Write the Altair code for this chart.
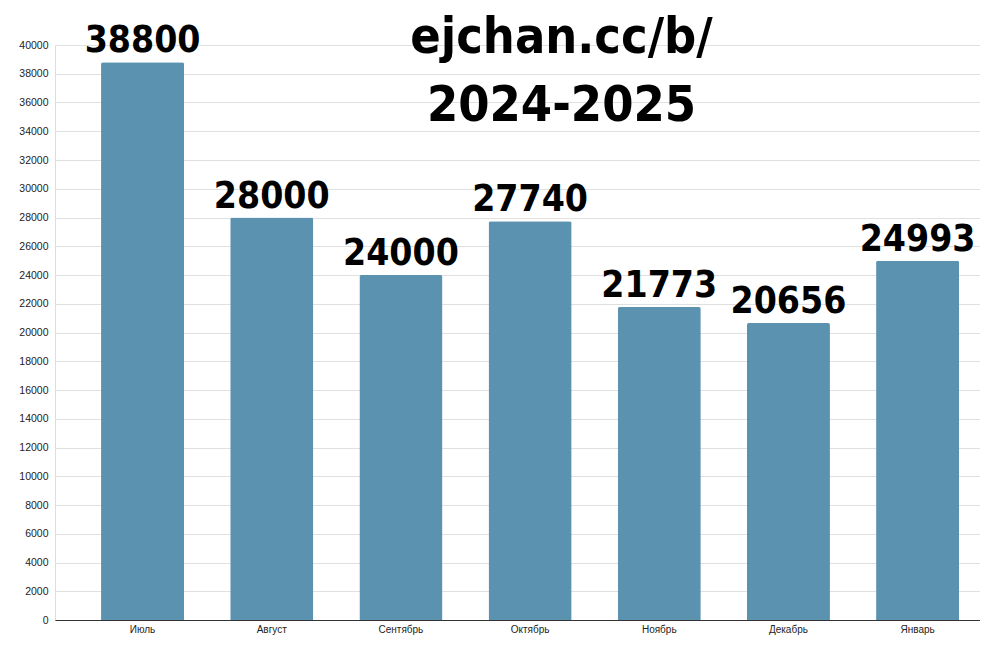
import altair as alt
import pandas as pd

months = ["Июль", "Август", "Сентябрь", "Октябрь", "Ноябрь", "Декабрь", "Январь"]
values = [38800, 28000, 24000, 27740, 21773, 20656, 24993]
title_lines = ["ejchan.cc/b/", "2024-2025"]
y_ticks = list(range(0, 40001, 2000))

df = pd.DataFrame({"month": months, "value": values})

x = alt.X(
    "month:N",
    sort=months,
    title=None,
    scale=alt.Scale(paddingInner=0.357, paddingOuter=0.259, align=0.688),
    axis=alt.Axis(
        labelAngle=0,
        labelFont="Liberation Sans",
        labelFontSize=10,
        labelColor="#222222",
        labelPadding=4,
        ticks=False,
        domainColor="#333333",
        domainWidth=1,
        grid=False,
    ),
)
y = alt.Y(
    "value:Q",
    title=None,
    scale=alt.Scale(domain=[0, 40000], nice=False),
    axis=alt.Axis(
        values=y_ticks,
        format="d",
        labelFont="Liberation Sans",
        labelFontSize=10.5,
        labelColor="#222222",
        labelPadding=7,
        labelOverlap=False,
        ticks=False,
        domain=False,
        grid=True,
        gridColor="#e0e0e0",
        gridWidth=1,
    ),
)

base = alt.Chart(df).encode(x=x, y=y)

bars = base.mark_bar(color="#5a92b0", cornerRadiusTopLeft=2, cornerRadiusTopRight=2)

labels = base.mark_text(
    font="DejaVu Sans Condensed",
    fontWeight="bold",
    fontSize=37,
    color="#000000",
    baseline="alphabetic",
    align="center",
    dy=-10,
).encode(text=alt.Text("value:Q", format="d"))

chart = (
    alt.layer(bars, labels)
    .properties(
        width=925,
        height=575,
        autosize=alt.AutoSizeParams(type="none"),
        padding={"left": 47, "top": 37, "right": 0, "bottom": 15},
        title=alt.TitleParams(
            text=title_lines,
            font="DejaVu Sans Condensed",
            fontWeight="bold",
            fontSize=50,
            lineHeight=68,
            color="#000000",
            anchor="middle",
            baseline="top",
            dx=44,
            offset=-109,
        ),
    )
    .configure_view(stroke="transparent")
    .configure_axisY(labelOverlap=False)
    .configure(background="white")
)

chart.save("out.html", embed_options={"renderer": "svg", "actions": False})
